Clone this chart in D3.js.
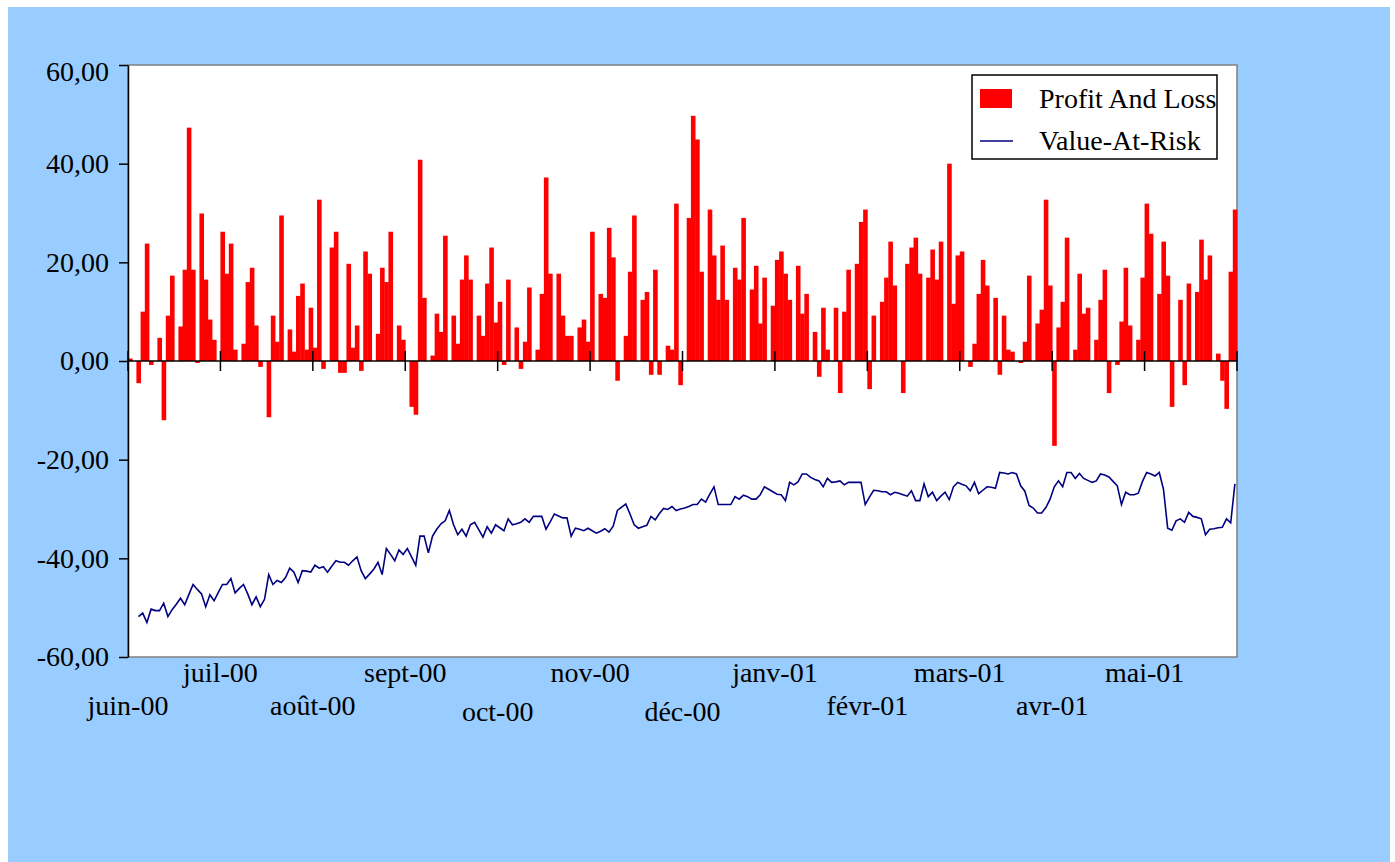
<!DOCTYPE html>
<html>
<head>
<meta charset="utf-8">
<script src="https://cdnjs.cloudflare.com/ajax/libs/d3/7.8.5/d3.min.js"></script>
<style>
body { margin: 0; background: #fff; }
svg text { font-family: "Liberation Serif", "Times New Roman", serif; }
</style>
</head>
<body>
<div id="main"></div>
<script>
// month labels, one every 22 trading days
var monthLabels = ["juin-00", "juil-00", "août-00", "sept-00", "oct-00", "nov-00",
                   "déc-00", "janv-01", "févr-01", "mars-01", "avr-01", "mai-01"];
var daysPerTick = 22;
var yTicks = [-60, -40, -20, 0, 20, 40, 60];

// daily profit and loss
var pnlJun00 = [0.5, 0, -4.5, 10, 23.8, -0.8, 0, 4.7, -12, 9.2, 17.3, 0, 7, 18.5, 47.3, 18.5, -0.4, 29.9, 16.5, 8.4, 4.3, 0];
var pnlJul00 = [26.2, 17.7, 23.8, 2.3, 0, 3.5, 16, 18.9, 7.2, -1.2, 0, -11.4, 9.2, 3.9, 29.5, 0, 6.4, 1.9, 13.2, 15.7, 2.3, 10.8];
var pnlAug00 = [2.7, 32.7, -1.6, 0, 23, 26.2, -2.4, -2.4, 19.7, 2.7, 7.2, -2, 22.2, 17.7, 0, 5.5, 18.9, 16, 26.2, 0, 7.2, 4.3];
var pnlSep00 = [0, -9.3, -10.9, 40.8, 12.8, 0, 1.1, 9.6, 5.9, 25.4, 0, 9.2, 3.5, 16.5, 21.4, 16.5, 0, 9.2, 5.1, 15.7, 23, 7.8];
var pnlOct00 = [12, -0.8, 16.5, 0, 6.8, -1.6, 3.9, 14.9, 0, 2.3, 13.6, 37.2, 17.7, 0, 17.7, 9.2, 5.1, 5.1, 0, 6.8, 8.4, 3.9];
var pnlNov00 = [26.2, 0, 13.6, 12.8, 27, 21, -4, 0, 5.1, 18.1, 29.5, 0, 12.4, 14, -2.8, 18.5, -2.8, 0, 3.1, 2.3, 31.9, -4.9];
var pnlDec00 = [0, 29, 49.7, 44.9, 18.1, 0, 30.7, 21.4, 12.4, 23.4, 12.4, 0, 18.9, 16.5, 29, 0, 14.5, 19.3, 7.6, 16.9, 0, 11.2];
var pnlJan01 = [20.5, 22.2, 17.7, 12.4, 0, 19.3, 9.6, 13.6, 0, 5.9, -3.2, 10.8, 2.3, 0, 10.8, -6.5, 10, 18.5, 0, 19.7, 28.2, 30.7];
var pnlFeb01 = [-5.7, 9.2, 0, 12, 16.9, 24.2, 15.3, 0, -6.5, 19.7, 23, 25, 17.7, 0, 16.9, 22.6, 16.5, 24.2, 0, 40, 11.6, 21.4];
var pnlMar01 = [22.2, 0, -1.2, 3.5, 13.6, 20.5, 15.3, 0, 12.8, -2.8, 9.2, 2.3, 1.9, 0, -0.4, 3.9, 17.3, 0, 7.6, 10.4, 32.7, 15.3];
var pnlApr01 = [-17.2, 6.8, 12, 25, 0, 2.3, 17.7, 9.6, 10.8, 0, 4.3, 12.4, 18.5, -6.5, 0, -0.8, 8, 18.9, 7.2, 0, 4.3, 16.9];
var pnlMay01 = [31.9, 25.8, 0, 13.6, 24.2, 17.3, -9.3, 0, 12.4, -4.9, 15.7, 0, 14, 24.6, 16.5, 21.4, 0, 1.5, -4, -9.7, 18.1, 30.7];

// daily value-at-risk (first two days not computed)
var varJun00 = [null, null, -51.8, -51.1, -53, -50.3, -50.6, -50.6, -49.1, -51.8, -50.4, -49.3, -48.1, -49.4, -47.3, -45.3, -46.3, -47.2, -49.8, -47.4, -48.6, -46.9];
var varJul00 = [-45.3, -45.3, -44.1, -47, -46.1, -45.3, -47.2, -49.4, -47.8, -49.8, -48.3, -43.3, -45.3, -44.5, -44.9, -43.9, -42, -42.8, -44.9, -42.5, -42.6, -42.8];
var varAug00 = [-41.4, -42, -41.7, -42.8, -41.6, -40.5, -40.8, -40.8, -41.4, -40.5, -39.7, -42.5, -44.1, -43.2, -42.2, -40.8, -43.3, -38, -39.2, -40.5, -38.3, -39.2];
var varSep00 = [-38, -39.7, -41.4, -35.5, -35.5, -38.9, -35.5, -34.1, -33, -32.4, -30.3, -33.2, -35.2, -34.1, -35.5, -33.2, -32.7, -34.2, -35.7, -33.6, -34.9, -33.2];
var varOct00 = [-33.8, -34.4, -32, -33.2, -33, -32.7, -32, -32.7, -31.5, -31.5, -31.5, -34.1, -32.6, -31, -31.4, -31.8, -31.8, -35.5, -33.9, -34.1, -34.4, -33.9];
var varNov00 = [-34.4, -34.9, -34.5, -34, -34.7, -33.5, -30.3, -29.6, -29, -31, -33.2, -33.9, -33.6, -33.3, -31.5, -32.2, -30.9, -29.9, -30.1, -29.5, -30.3, -30];
var varDec00 = [-29.8, -29.5, -29.1, -29.1, -28, -28.6, -27, -25.5, -29.1, -29.1, -29.1, -29.1, -27.5, -28, -27.2, -27.5, -28, -28, -27.1, -25.5, -26, -26.5];
var varJan01 = [-27, -27.1, -28.3, -24.6, -25.1, -24.5, -22.9, -22.9, -23.6, -24, -24.3, -25.5, -23.8, -24.6, -24.5, -24.3, -25.1, -24.6, -24.6, -24.6, -24.6, -29.1];
var varFeb01 = [-27.6, -26.2, -26.3, -26.5, -26.5, -27.1, -26.6, -26.8, -27.1, -27.4, -26.3, -28.3, -28.3, -24.9, -27.5, -26.6, -28.3, -27.4, -26.6, -28.1, -25.5, -24.6];
var varMar01 = [-25, -25.3, -26.3, -24.6, -26.9, -26.2, -25.5, -25.6, -25.8, -22.6, -22.7, -22.9, -22.6, -22.9, -25.3, -26.4, -29.3, -29.8, -30.8, -30.8, -29.7, -28];
var varApr01 = [-25.5, -24.3, -25.5, -22.6, -22.6, -23.8, -22.8, -23.8, -24.2, -24.6, -24.3, -22.9, -23.1, -23.5, -24.4, -25.3, -29.1, -26.6, -27.1, -27.1, -26.8, -24.4];
var varMay01 = [-22.6, -22.9, -23.3, -22.6, -26, -33.9, -34.3, -32.4, -32, -32.7, -30.7, -31.5, -31.7, -32, -35.2, -34.1, -34, -33.8, -33.7, -32, -32.8, -24.9];

var pnl = [].concat(pnlJun00, pnlJul00, pnlAug00, pnlSep00, pnlOct00, pnlNov00,
                    pnlDec00, pnlJan01, pnlFeb01, pnlMar01, pnlApr01, pnlMay01);
var valueAtRisk = [].concat(varJun00, varJul00, varAug00, varSep00, varOct00, varNov00,
                            varDec00, varJan01, varFeb01, varMar01, varApr01, varMay01);

var chartW = 1395, chartH = 862;
var plotL = 128, plotR = 1237, plotT = 65, plotB = 657;
var font = "28px";

var svg = d3.select("#main")
    .append("svg")
    .attr("width", chartW)
    .attr("height", chartH);

svg.append("rect")
    .attr("x", 8).attr("y", 7)
    .attr("width", 1382).attr("height", chartH - 7)
    .attr("fill", "#99ccff");

var x = d3.scaleBand()
    .domain(d3.range(pnl.length))
    .range([plotL, plotR])
    .padding(0);
var xEdge = d3.scaleLinear()
    .domain([0, pnl.length])
    .range([plotL, plotR]);
var y = d3.scaleLinear()
    .domain([-60, 60])
    .range([plotB, plotT]);

svg.append("rect")
    .attr("x", plotL).attr("y", plotT)
    .attr("width", plotR - plotL).attr("height", plotB - plotT)
    .attr("fill", "#fff")
    .attr("stroke", "#808080")
    .attr("stroke-width", 1.5);

// bars, slightly overdrawn so neighbours merge like in the original
svg.append("g")
    .selectAll("rect")
    .data(pnl)
    .enter()
    .append("rect")
    .attr("x", function(d, i) { return x(i); })
    .attr("width", x.bandwidth() + 0.4)
    .attr("y", function(d) { return y(Math.max(0, d)); })
    .attr("height", function(d) { return Math.abs(y(d) - y(0)); })
    .attr("fill", "#ff0000");

// category axis through zero
var xAxis = svg.append("g");
xAxis.append("line")
    .attr("x1", plotL).attr("x2", plotR)
    .attr("y1", y(0)).attr("y2", y(0))
    .attr("stroke", "#000")
    .attr("stroke-width", 1.5);
var tickIdx = d3.range(0, pnl.length + 1, daysPerTick);
xAxis.selectAll(".xtick")
    .data(tickIdx)
    .enter()
    .append("line")
    .attr("class", "xtick")
    .attr("x1", function(d) { return xEdge(d); })
    .attr("x2", function(d) { return xEdge(d); })
    .attr("y1", y(0) - 10)
    .attr("y2", y(0) + 10)
    .attr("stroke", "#000")
    .attr("stroke-width", 1.5);

// staggered labels; oct and déc sit a little lower in the original
svg.append("g")
    .selectAll("text")
    .data(monthLabels)
    .enter()
    .append("text")
    .attr("x", function(d, i) { return xEdge(i * daysPerTick); })
    .attr("y", function(d, i) {
        if (i % 2) return 682;
        return (d == "oct-00" || d == "déc-00") ? 721 : 715;
    })
    .attr("text-anchor", "middle")
    .style("font-size", font)
    .text(function(d) { return d; });

// value-at-risk line
var line = d3.line()
    .defined(function(d) { return d != null; })
    .x(function(d, i) { return x(i) + x.bandwidth() / 2; })
    .y(function(d) { return y(d); });
svg.append("path")
    .datum(valueAtRisk)
    .attr("d", line)
    .attr("fill", "none")
    .attr("stroke", "#000080")
    .attr("stroke-width", 1.6);

// y axis
var frLocale = d3.formatLocale({decimal: ",", thousands: " ", grouping: [3], currency: ["", " €"], minus: "-"});
var fmt = frLocale.format(".2f");
var yAxis = svg.append("g")
    .attr("transform", "translate(" + plotL + ",0)")
    .call(d3.axisLeft(y).tickValues(yTicks).tickFormat(fmt).tickSize(9).tickSizeOuter(0).tickPadding(10));
yAxis.select(".domain").attr("stroke", "#000").attr("stroke-width", 1.5);
yAxis.selectAll(".tick line").attr("stroke", "#000").attr("stroke-width", 1.5);
yAxis.selectAll("text")
    .style("font-size", font)
    .style("font-family", "'Liberation Serif', 'Times New Roman', serif")
    .attr("fill", "#000")
    .attr("dy", function(d) { return d == 60 ? "0.55em" : "0.32em"; });

// legend
var legend = svg.append("g");
legend.append("rect")
    .attr("x", 972).attr("y", 75)
    .attr("width", 245).attr("height", 84)
    .attr("fill", "#fff")
    .attr("stroke", "#000")
    .attr("stroke-width", 1.5);
legend.append("rect")
    .attr("x", 980).attr("y", 89)
    .attr("width", 32).attr("height", 19)
    .attr("fill", "#ff0000");
legend.append("line")
    .attr("x1", 980).attr("x2", 1013)
    .attr("y1", 141).attr("y2", 141)
    .attr("stroke", "#000080")
    .attr("stroke-width", 1.6);
legend.append("text")
    .attr("x", 1039).attr("y", 108)
    .style("font-size", font)
    .text("Profit And Loss");
legend.append("text")
    .attr("x", 1039).attr("y", 150)
    .style("font-size", font)
    .text("Value-At-Risk");
</script>
</body>
</html>
